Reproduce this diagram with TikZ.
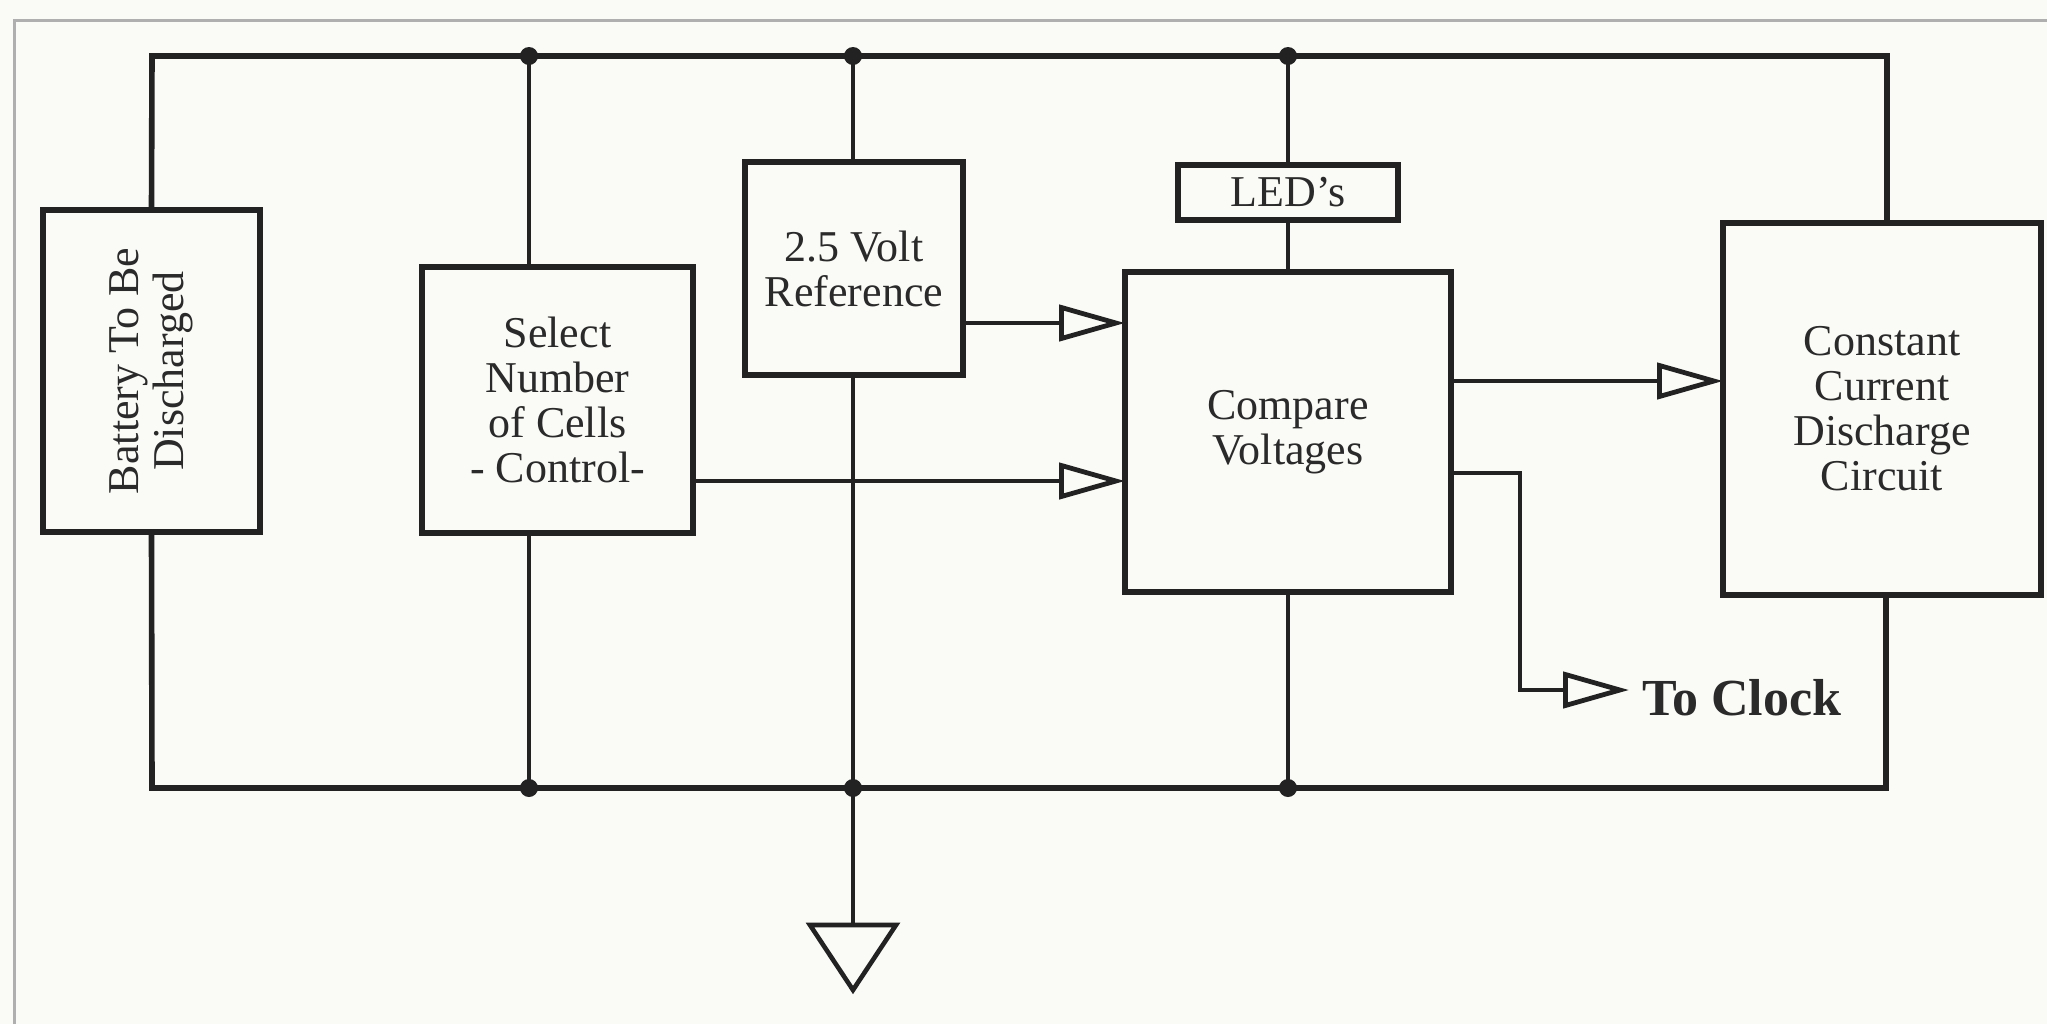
\documentclass[tikz,border=0pt]{standalone}
\usepackage{fontspec}
\setmainfont{Liberation Serif}
\usetikzlibrary{arrows.meta}
\definecolor{ink}{RGB}{34,34,34}
\definecolor{txt}{RGB}{42,42,42}
\definecolor{paper}{RGB}{250,250,246}
\definecolor{framegray}{RGB}{175,175,175}
\begin{document}
\begin{tikzpicture}[x=0.5pt,y=-0.5pt,
  box/.style={draw=ink, line width=2.7pt, inner sep=0pt, outer sep=0pt, align=center, text=txt, font=\fontsize{22}{22.5}\selectfont},
  wire/.style={draw=ink, line width=2.3pt},
  bus/.style={draw=ink, line width=2.8pt, line join=miter},
  arr/.style={wire, -{Triangle[open, length=33pt, width=18pt, line width=2.4pt]}},
  dot/.style={circle, fill=ink, inner sep=0pt, minimum size=9pt}]
\useasboundingbox (0,0) rectangle (2047,1024);
\fill[paper] (0,0) rectangle (2047,1024);
\draw[framegray, line width=1.5pt] (14,1024) -- (14,20) -- (2047,20);

% blocks
\node[box, rotate=90, minimum width=161pt, minimum height=108.5pt] (bat) at (151.5,371) {Battery To Be\\Discharged};
\node[box, minimum width=135.5pt, minimum height=133pt] (sel) at (557.5,400) {Select\\Number\\of Cells\\- Control-};
\node[box, minimum width=109pt, minimum height=106.5pt] (ref) at (854,268.5) {2.5 Volt\\Reference};
\node[box, minimum width=110pt, minimum height=27.5pt] (led) at (1288,192.5) {LED's};
\node[box, minimum width=163pt, minimum height=160pt] (cmp) at (1288,432) {Compare\\Voltages};
\node[box, minimum width=159pt, minimum height=186pt] (ccd) at (1882,409) {Constant\\Current\\Discharge\\Circuit};
\node[anchor=base west, inner sep=0pt, text=txt, font=\fontsize{26}{26}\selectfont\bfseries] (clk) at (1642,715) {To Clock};

% bus points
\coordinate (tl) at (152,56);
\coordinate (tr) at (1887,56);
\coordinate (bl) at (152,788);
\coordinate (br) at (1886,788);
\coordinate (t1) at (529,56);
\coordinate (t2) at (853,56);
\coordinate (t3) at (1288,56);
\coordinate (b1) at (529,788);
\coordinate (b2) at (853,788);
\coordinate (b3) at (1288,788);
\coordinate (gnd) at (853,925);
\coordinate (ck1) at (1520,473);
\coordinate (ck2) at (1520,690);
\coordinate (ckin) at (1629,690);

% buses
\draw[bus] (bat.east) -- (tl) -- (tr) -- (ccd.north -| tr);
\draw[bus] (bat.west) -- (bl) -- (br) -- (ccd.south -| br);

% vertical taps
\draw[wire] (t1) -- (t1 |- sel.north);
\draw[wire] (b1) -- (b1 |- sel.south);
\draw[wire] (t2) -- (t2 |- ref.north);
\draw[wire] (t2 |- ref.south) -- (gnd);
\draw[wire] (t3) -- (led.north);
\draw[wire] (led.south) -- (cmp.north);
\draw[wire] (cmp.south) -- (b3);

% ground
\draw[wire, line join=miter] ([xshift=-21.5pt]gnd) -- ([xshift=21.5pt]gnd) -- ([yshift=-32.5pt]gnd) -- cycle;

% signal arrows
\draw[arr] (ref.east |- 0,323) -- (cmp.west |- 0,323);
\draw[arr] (sel.east |- 0,481) -- (cmp.west |- 0,481);
\draw[arr] (cmp.east |- 0,381) -- (ccd.west |- 0,381);
\draw[arr] (cmp.east |- ck1) -- (ck1) -- (ck2) -- (ckin);

% junction dots
\foreach \p in {t1,t2,t3,b1,b2,b3} \node[dot] (d\p) at (\p) {};
\end{tikzpicture}
\end{document}
